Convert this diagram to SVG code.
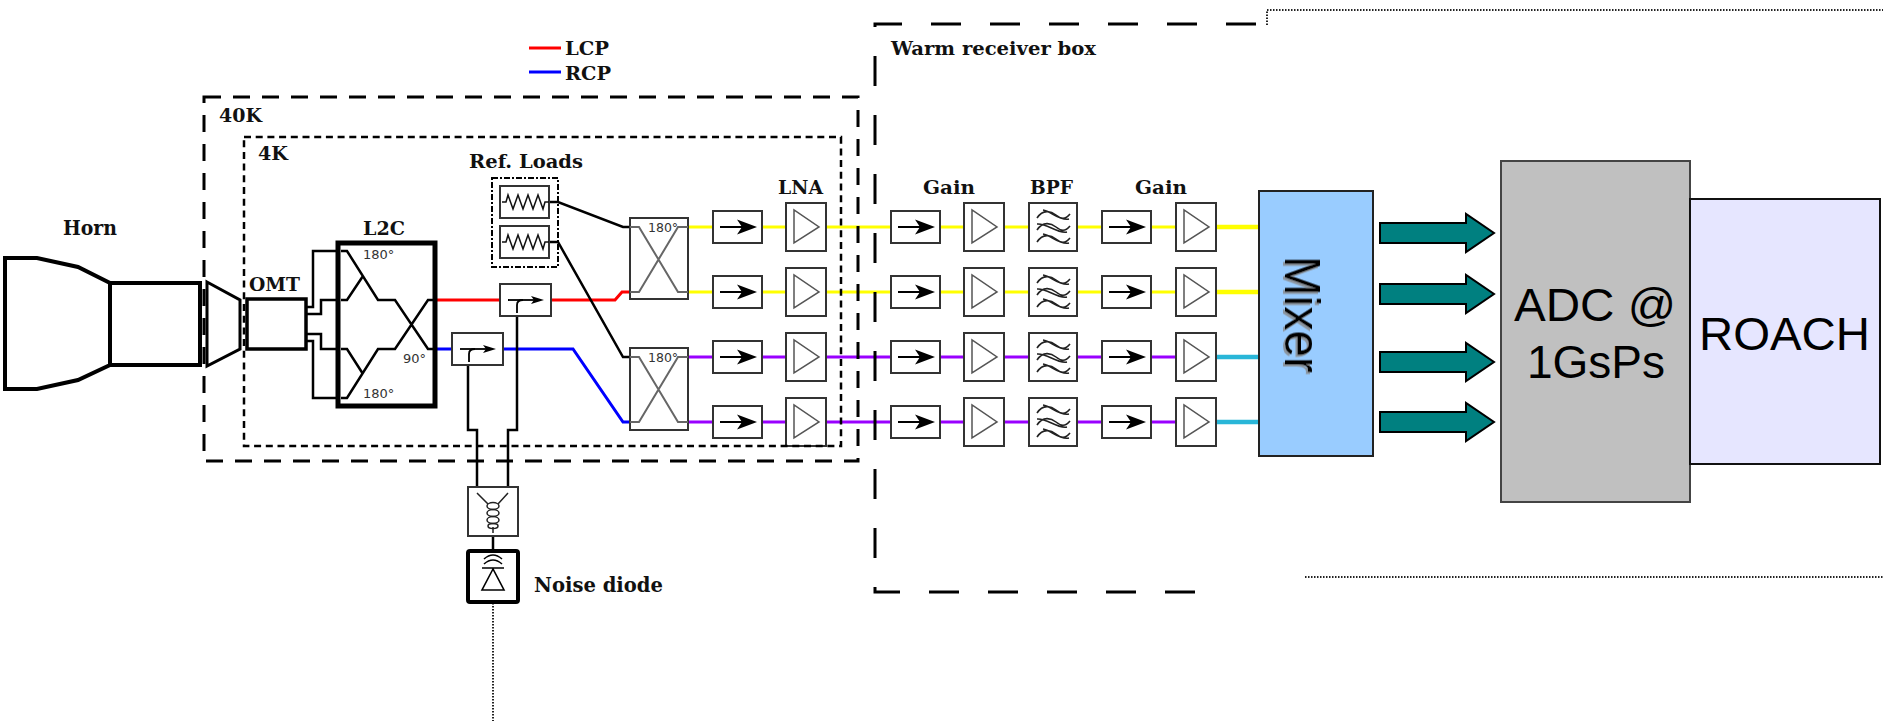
<svg xmlns="http://www.w3.org/2000/svg" width="1883" height="721" viewBox="0 0 1883 721">
<style>
.lbl{font-family:"DejaVu Serif","Liberation Serif",serif;font-weight:bold;font-size:19px;fill:#111}
.deg{font-family:"DejaVu Sans","Liberation Sans",sans-serif;font-size:13px;fill:#333}
.big{font-family:"Liberation Sans",Arial,sans-serif;font-size:46px;fill:#000}
.blk{fill:none;stroke:#000;stroke-width:2.5}
.thk{fill:#fff;stroke:#000;stroke-width:4}
.box{fill:#fff;stroke:#333;stroke-width:2}
.sym{fill:none;stroke:#555;stroke-width:1.5}
.wav{fill:none;stroke:#222;stroke-width:1.6}
.xl{fill:none;stroke:#666;stroke-width:2}
.yl{fill:none;stroke:#ffff00;stroke-width:3}
.pu{fill:none;stroke:#9900ff;stroke-width:3}
.yl2{fill:none;stroke:#ffff00;stroke-width:4.5}
.cy{fill:none;stroke:#29b6d8;stroke-width:4.5}
.red{fill:none;stroke:#ff0000;stroke-width:3}
.blu{fill:none;stroke:#0000ff;stroke-width:3}
.b40{fill:none;stroke:#000;stroke-width:3;stroke-dasharray:17 12}
.b4{fill:none;stroke:#000;stroke-width:2.5;stroke-dasharray:7 4.7}
.bw{fill:none;stroke:#000;stroke-width:3;stroke-dasharray:30 29}
.dot{fill:none;stroke:#222;stroke-width:2;stroke-dasharray:1.5 1.5}
.dd{fill:none;stroke:#000;stroke-width:2;stroke-dasharray:6 2 2 2}
.arr{fill:#008080;stroke:#000;stroke-width:2}
</style>
<defs>
<filter id="shd" x="-20%" y="-20%" width="140%" height="140%"><feDropShadow dx="2" dy="2" stdDeviation="0.5" flood-color="#888" flood-opacity="0.8"/></filter>
<g id="iso"><rect x="0" y="-16" width="49" height="32" class="box"/><path d="M7,0 H34" stroke="#000" stroke-width="2"/><path d="M44,0 L24,-7.5 L29,0 L24,7.5 Z" fill="#000"/></g>
<g id="amp"><rect x="0" y="-24" width="40" height="48" class="box"/><path d="M8,-17 V16 L33,0 Z" class="sym"/></g>
<g id="bpf"><rect x="0" y="-24" width="48" height="48" class="box"/>
<path d="M8,-9 C14,-18 22,-16 27,-12 S36,-7 41,-13 M14,-17 C22,-16 30,-6 40,-8" class="wav"/>
<path d="M8,3 C14,-6 22,-4 27,0 S36,5 41,-1 M8,-3 C18,-4 28,7 38,5" class="wav"/>
<path d="M8,15 C14,6 22,8 27,12 S36,17 41,11 M14,7 C22,8 30,18 40,16" class="wav"/>
</g>
<g id="cpl"><rect x="0" y="0" width="51" height="32" class="box"/><path d="M8,16 H37" stroke="#000" stroke-width="1.8"/><path d="M44,16 L31,12 L34,16 L31,20 Z" fill="#000"/><path d="M17,29 V21 Q17,16 23,16" stroke="#000" stroke-width="1.8" fill="none"/></g>
<path id="bigarrow" d="M0,-10 H86 V-19 L114,0 L86,19 V10 H0 Z"/>
</defs>

<g id="legend">
<path d="M529,48 H561" class="red"/>
<path d="M529,72 H561" class="blu"/>
<text x="565" y="55" class="lbl" style="font-size:18px" textLength="44" lengthAdjust="spacingAndGlyphs">LCP</text>
<text x="565" y="80" class="lbl" style="font-size:18px" textLength="46" lengthAdjust="spacingAndGlyphs">RCP</text>
</g>

<g id="connectors">
<path d="M306,307 H313 V251 H347 M306,314 H321 V300 H347 M306,334 H321 V349 H347 M306,341 H313 V398 H347" class="blk"/>
<path d="M435,300 H500 M551,300 H615 L622,292 H630" class="red"/>
<path d="M435,349 H452 M502,349 H573 L623,422 H630" class="blu"/>
<path d="M549,202 H558 L623,227 H630 M549,242 H558 L623,357 H630" class="blk"/>
<path d="M468,365 V430 H477 V487 M517,316 V430 H508 V487" class="blk"/>
<path d="M493,536 V551" class="blk"/>
<path d="M493,603 V721" class="dot"/>
<path d="M688,227 H1217 M688,292 H1217" class="yl"/>
<path d="M688,357 H1217 M688,422 H1217" class="pu"/>
<path d="M1217,227 H1259 M1217,292 H1259" class="yl2"/>
<path d="M1217,357 H1259 M1217,422 H1259" class="cy"/>
</g>

<g id="horn">
<path d="M5,258 L37,258 L78,267 L110,283 L110,365 L78,380 L37,389 L5,389 Z" class="thk"/>
<rect x="110" y="283" width="90" height="82" class="thk"/>
<path d="M207,282 L240,300 L240,349 L207,366 Z" fill="#fff" stroke="#000" stroke-width="3"/>
<text x="90" y="235" class="lbl" style="font-size:20px" text-anchor="middle" textLength="54" lengthAdjust="spacingAndGlyphs">Horn</text>
</g>

<g id="omt">
<rect x="247" y="299" width="59" height="50" fill="#fff" stroke="#000" stroke-width="3.5"/>
<text x="249" y="291" class="lbl" textLength="51" lengthAdjust="spacingAndGlyphs">OMT</text>
</g>

<g id="l2c">
<rect x="338" y="243" width="97" height="163" fill="#fff" stroke="#000" stroke-width="5"/>
<path d="M341,251 H347 L378,300 H395 L428,349 H437 M341,300 H347 L363,276 M341,398 H347 L378,349 H395 L428,300 H437 M341,349 H347 L363,374" class="blk"/>
<text x="363" y="259" class="deg">180°</text>
<text x="403" y="363" class="deg">90°</text>
<text x="363" y="398" class="deg">180°</text>
<text x="363" y="235" class="lbl" textLength="42" lengthAdjust="spacingAndGlyphs">L2C</text>
</g>

<g id="ref-loads">
<rect x="492" y="178" width="66" height="89" class="dd"/>
<rect x="500" y="186" width="49" height="32" class="box"/>
<rect x="500" y="226" width="49" height="32" class="box"/>
<path d="M502,202 H506 L508,195 L513,209 L518,195 L523,209 L528,195 L533,209 L538,195 L543,209 L545,202 H549" fill="none" stroke="#111" stroke-width="1.5"/>
<path d="M502,242 H506 L508,235 L513,249 L518,235 L523,249 L528,235 L533,249 L538,235 L543,249 L545,242 H549" fill="none" stroke="#111" stroke-width="1.5"/>
<text x="469" y="168" class="lbl" textLength="114" lengthAdjust="spacingAndGlyphs">Ref. Loads</text>
</g>

<g id="coupler-lcp"><use href="#cpl" x="500" y="284"/></g>
<g id="coupler-rcp"><use href="#cpl" x="452" y="333"/></g>

<g id="hybrid-1">
<rect x="630" y="218" width="58" height="81" class="box"/>
<path d="M630,227 H639 L678,292 H688 M630,292 H639 L678,227 H688" class="xl"/>
<text x="648" y="232" class="deg" style="font-size:12.5px">180°</text>
</g>
<g id="hybrid-2">
<rect x="630" y="348" width="58" height="82" class="box"/>
<path d="M630,357 H639 L678,422 H688 M630,422 H639 L678,357 H688" class="xl"/>
<text x="648" y="362" class="deg" style="font-size:12.5px">180°</text>
</g>

<g id="cold-isolators">
<use href="#iso" x="713" y="227"/><use href="#iso" x="713" y="292"/><use href="#iso" x="713" y="357"/><use href="#iso" x="713" y="422"/>
</g>
<g id="lna">
<use href="#amp" x="786" y="227"/><use href="#amp" x="786" y="292"/><use href="#amp" x="786" y="357"/><use href="#amp" x="786" y="422"/>
<text x="778" y="194" class="lbl" textLength="45" lengthAdjust="spacingAndGlyphs">LNA</text>
</g>
<g id="gain-1">
<use href="#iso" x="891" y="227"/><use href="#iso" x="891" y="292"/><use href="#iso" x="891" y="357"/><use href="#iso" x="891" y="422"/>
<use href="#amp" x="964" y="227"/><use href="#amp" x="964" y="292"/><use href="#amp" x="964" y="357"/><use href="#amp" x="964" y="422"/>
<text x="923" y="194" class="lbl" textLength="52" lengthAdjust="spacingAndGlyphs">Gain</text>
</g>
<g id="bpf-stage">
<use href="#bpf" x="1029" y="227"/><use href="#bpf" x="1029" y="292"/><use href="#bpf" x="1029" y="357"/><use href="#bpf" x="1029" y="422"/>
<text x="1030" y="194" class="lbl" textLength="43" lengthAdjust="spacingAndGlyphs">BPF</text>
</g>
<g id="gain-2">
<use href="#iso" x="1102" y="227"/><use href="#iso" x="1102" y="292"/><use href="#iso" x="1102" y="357"/><use href="#iso" x="1102" y="422"/>
<use href="#amp" x="1176" y="227"/><use href="#amp" x="1176" y="292"/><use href="#amp" x="1176" y="357"/><use href="#amp" x="1176" y="422"/>
<text x="1135" y="194" class="lbl" textLength="52" lengthAdjust="spacingAndGlyphs">Gain</text>
</g>

<g id="bias-tee">
<rect x="468" y="487" width="50" height="49" class="box"/>
<path d="M477,493 L488,504 M508,493 L498,504 M493,527 V533" stroke="#222" stroke-width="1.5" fill="none"/>
<ellipse cx="493" cy="506" rx="6" ry="3.5" fill="none" stroke="#222" stroke-width="1.5"/>
<ellipse cx="493" cy="513" rx="6" ry="3.5" fill="none" stroke="#222" stroke-width="1.5"/>
<ellipse cx="493" cy="520" rx="6" ry="3.5" fill="none" stroke="#222" stroke-width="1.5"/>
<ellipse cx="493" cy="526" rx="5" ry="2.5" fill="none" stroke="#222" stroke-width="1.5"/>
</g>

<g id="noise-diode">
<rect x="468" y="551" width="50" height="51" rx="2" fill="#fff" stroke="#000" stroke-width="4"/>
<path d="M484,559 Q493,551 502,559 M484,564 Q493,556 502,564 M482,568 H504 M493,569 L482,590 H504 Z" fill="none" stroke="#000" stroke-width="1.6"/>
<text x="534" y="592" class="lbl" style="font-size:20px" textLength="129" lengthAdjust="spacingAndGlyphs">Noise diode</text>
</g>

<g id="mixer">
<rect x="1259" y="191" width="114" height="265" fill="#99ccff" stroke="#222" stroke-width="2"/>
<text transform="translate(1285,314.5) rotate(90)" class="big" style="font-size:50px" text-anchor="middle" textLength="117" lengthAdjust="spacingAndGlyphs" filter="url(#shd)">Mixer</text>
</g>

<g id="data-arrows">
<use href="#bigarrow" x="1380" y="233" class="arr"/>
<use href="#bigarrow" x="1380" y="294" class="arr"/>
<use href="#bigarrow" x="1380" y="362" class="arr"/>
<use href="#bigarrow" x="1380" y="422" class="arr"/>
</g>

<g id="adc">
<rect x="1501" y="161" width="189" height="341" fill="#c0c0c0" stroke="#444" stroke-width="2"/>
<text x="1595" y="321" class="big" text-anchor="middle" textLength="162" lengthAdjust="spacingAndGlyphs">ADC @</text>
<text x="1596" y="378" class="big" text-anchor="middle" textLength="138" lengthAdjust="spacingAndGlyphs">1GsPs</text>
</g>

<g id="roach">
<rect x="1690" y="199" width="190" height="265" fill="#e6e6ff" stroke="#111" stroke-width="2"/>
<text x="1784.5" y="350" class="big" text-anchor="middle" textLength="171" lengthAdjust="spacingAndGlyphs">ROACH</text>
</g>

<g id="enclosure-40K">
<rect x="204" y="97" width="654" height="364" class="b40"/>
<text x="219" y="122" class="lbl" textLength="43" lengthAdjust="spacingAndGlyphs">40K</text>
</g>
<g id="enclosure-4K">
<rect x="244" y="137" width="597" height="309" class="b4"/>
<text x="258" y="160" class="lbl" textLength="30" lengthAdjust="spacingAndGlyphs">4K</text>
</g>
<g id="warm-receiver-box">
<path d="M1256,24 H875 V592 H1204" class="bw"/>
<text x="891" y="55" class="lbl" style="font-size:18px" textLength="205" lengthAdjust="spacingAndGlyphs">Warm receiver box</text>
</g>
<g id="digital-enclosure">
<path d="M1267,25 V10 H1883" class="dot"/>
<path d="M1305,577 H1883" class="dot"/>
</g>
</svg>
